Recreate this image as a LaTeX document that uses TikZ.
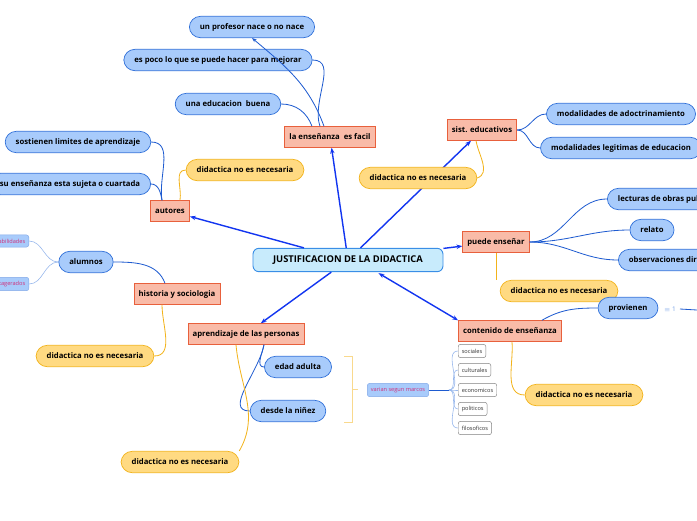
\documentclass[tikz,border=0pt]{standalone}
\usepackage{fontspec}
\setmainfont{Open Sans}
\usetikzlibrary{arrows.meta}
\definecolor{topicfill}{HTML}{C8EBFC}
\definecolor{topicline}{HTML}{3A8EE6}
\definecolor{subfill}{HTML}{F9BBA8}
\definecolor{subline}{HTML}{E8603C}
\definecolor{bluefill}{HTML}{A8CBFB}
\definecolor{blueline}{HTML}{2F6FD8}
\definecolor{yelfill}{HTML}{FFDA82}
\definecolor{yelline}{HTML}{F2B31B}
\definecolor{linkblue}{HTML}{1E5BD0}
\definecolor{arrblue}{HTML}{1235F0}
\definecolor{pinktext}{HTML}{D0307A}
\begin{document}
\begin{tikzpicture}[x=0.03cm,y=-0.03cm,
  every node/.style={font=\fontsize{6.6}{8}\selectfont\bfseries},
  topic/.style={draw=topicline,fill=topicfill,rounded corners=5pt,line width=0.8pt,minimum height=0.7cm,minimum width=5.7cm},
  sub/.style={draw=subline,fill=subfill,line width=0.6pt,minimum height=0.62cm,inner xsep=4pt},
  leaf/.style={draw=blueline,fill=bluefill,rounded corners=3.3mm,line width=0.6pt,minimum height=0.64cm,inner xsep=9pt},
  note/.style={draw=yelline,fill=yelfill,rounded corners=3.3mm,line width=0.6pt,minimum height=0.64cm,inner xsep=9pt},
  tag/.style={draw=blueline!60,fill=bluefill,rounded corners=2pt,font=\fontsize{4.8}{5}\selectfont,text=pinktext,minimum height=0.36cm,inner xsep=3pt},
  small/.style={draw=gray,fill=white,rounded corners=2pt,font=\fontsize{4.8}{5}\selectfont,text=black!80,minimum height=0.4cm,inner xsep=3pt},
  main/.style={arrblue,line width=1.2pt,{Stealth[length=5pt]}-{Stealth[length=5pt]}},
  link/.style={linkblue,line width=0.7pt},
  thin/.style={blueline!50,line width=0.5pt},
  yline/.style={yelline,line width=0.7pt}]
\useasboundingbox (0,0) rectangle (697,520);
% centre
\node[topic,font=\fontsize{8}{9}\selectfont\bfseries] (just) at (348,260) {JUSTIFICACION DE LA DIDACTICA};
% branches
\node[sub] (facil) at (330,137) {la enseñanza\ \ es facil};
\node[sub] (sist) at (482,130) {sist. educativos};
\node[sub] (autores) at (170,211) {autores};
\node[sub] (hist) at (177,294) {historia y sociologia};
\node[sub] (aprend) at (246,334) {aprendizaje de las personas};
\node[sub] (puede) at (496,242) {puede enseñar};
\node[sub] (cont) at (510,331) {contenido de enseñanza};
\draw[main,{}-{Stealth[length=5pt]}] (just) -- (facil);
\draw[main,{}-{Stealth[length=5pt]}] (just) -- (sist);
\draw[main,{}-{Stealth[length=5pt]}] (just) -- (autores);
\draw[main,{}-{Stealth[length=5pt]}] (just) -- (puede);
\draw[main,{}-{Stealth[length=5pt]}] (just) -- (aprend);
\draw[main] (just.south east) ++(-65,1) -- (cont.north west);
% la enseñanza es facil
\node[leaf] (nace) at (252,27) {un profesor nace o no nace};
\node[leaf] (poco) at (218,60) {es poco lo que se puede hacer para mejorar};
\node[leaf] (buena) at (228,104) {una educacion\ \ buena};
\draw[link,-{Stealth[length=4pt]}] (facil.north) ++(-6,0) to[out=110,in=-40] (nace.south);
\draw[link] (facil.north) ++(-10,0) to[out=110,in=0] (poco.east);
\draw[link] (facil.north) ++(-18,0) to[out=110,in=0] (buena.east);
% sist. educativos
\node[leaf] (adoc) at (621,114) {modalidades de adoctrinamiento};
\node[leaf] (legit) at (621,148) {modalidades legitimas de educacion};
\node[note] (nsist) at (418,178) {didactica no es necesaria};
\draw[link] (sist.east) to[out=0,in=180] (adoc.west);
\draw[link] (sist.east) to[out=0,in=180] (legit.west);
\draw[yline] (sist.south) ++(-6,0) to[out=-80,in=20] (nsist.east);
% autores
\node[note] (naut) at (245,170) {didactica no es necesaria};
\node[leaf] (lim) at (78,142) {sostienen limites de aprendizaje};
\node[leaf] (suj) at (70,184) {su enseñanza esta sujeta o cuartada};
\draw[yline] (autores.north) ++(10,0) to[out=80,in=180] (naut.west);
\draw[link] (autores.north) ++(-8,0) to[out=100,in=0] (lim.east);
\draw[link] (autores.north) ++(-8,0) to[out=100,in=0] (suj.east);
% historia y sociologia
\node[leaf] (alum) at (86,262) {alumnos};
\node[tag,anchor=east] (habil) at (29,241) {habilidades};
\node[tag,anchor=east] (exag) at (29,284) {exagerados};
\node[note] (nhist) at (95,356) {didactica no es necesaria};
\draw[link] (hist.north) ++(-12,0) to[out=110,in=0] (alum.east);
\draw[thin] (alum.west) to[out=180,in=0] (habil.east);
\draw[thin] (alum.west) to[out=180,in=0] (exag.east);
\draw[yline] (hist.south) ++(-15,0) to[out=-90,in=0] (nhist.east);
% aprendizaje de las personas
\node[leaf] (adulta) at (298,367) {edad adulta};
\node[leaf] (ninez) at (288,411) {desde la niñez};
\node[note] (napr) at (180,462) {didactica no es necesaria};
\draw[link] (aprend.south) ++(18,0) to[out=-100,in=180] (adulta.west);
\draw[link] (aprend.south) ++(18,0) to[out=-100,in=180] (ninez.west);
\draw[yline] (aprend.south) ++(-10,0) to[out=-85,in=60] (napr.north east);
\draw[yelline!50,line width=0.6pt] (344,356) -- (352,356) -- (352,422) -- (344,422) (352,389) -- (358,389);
\node[tag] (marcos) at (398,390) {varian segun marcos};
\foreach \nm/\txt/\yy in {soc/sociales/351, cul/culturales/370, eco/economicos/390, pol/politicos/409, fil/filosoficos/428}{
  \node[small,anchor=west] (\nm) at (458,\yy) {\txt};
  \draw[thin] (marcos.east) ++(20,0) to[out=0,in=180] (\nm.west);
}
\draw[link] (marcos.east) -- ++(20,0);
% puede enseñar
\node[leaf,anchor=west] (lect) at (607,199) {lecturas de obras publicadas};
\node[leaf] (relato) at (652,230) {relato};
\node[leaf,anchor=west] (obs) at (618,260) {observaciones directas};
\node[note] (npue) at (559,291) {didactica no es necesaria};
\draw[link] (puede.east) to[out=0,in=180] (lect.west);
\draw[link] (puede.east) to[out=0,in=180] (relato.west);
\draw[link] (puede.east) to[out=0,in=180] (obs.west);
\draw[yline] (puede.south) -- (puede.south |- npue.north);
% contenido de enseñanza
\node[leaf] (prov) at (628,308) {provienen};
\node[font=\fontsize{5.5}{6}\selectfont,text=blueline!70] (icon) at (670,309) {$\equiv$ 1};
\node[note] (ncont) at (584,395) {didactica no es necesaria};
\coordinate (edge) at (697,310);
\draw[link] (cont.north east) ++(-20,0) to[out=30,in=180] (prov.west);
\draw[link] (icon.east) -- (edge);
\draw[yline] (cont.south) ++(2,0) to[out=-85,in=180] (ncont.west);
\end{tikzpicture}
\end{document}
